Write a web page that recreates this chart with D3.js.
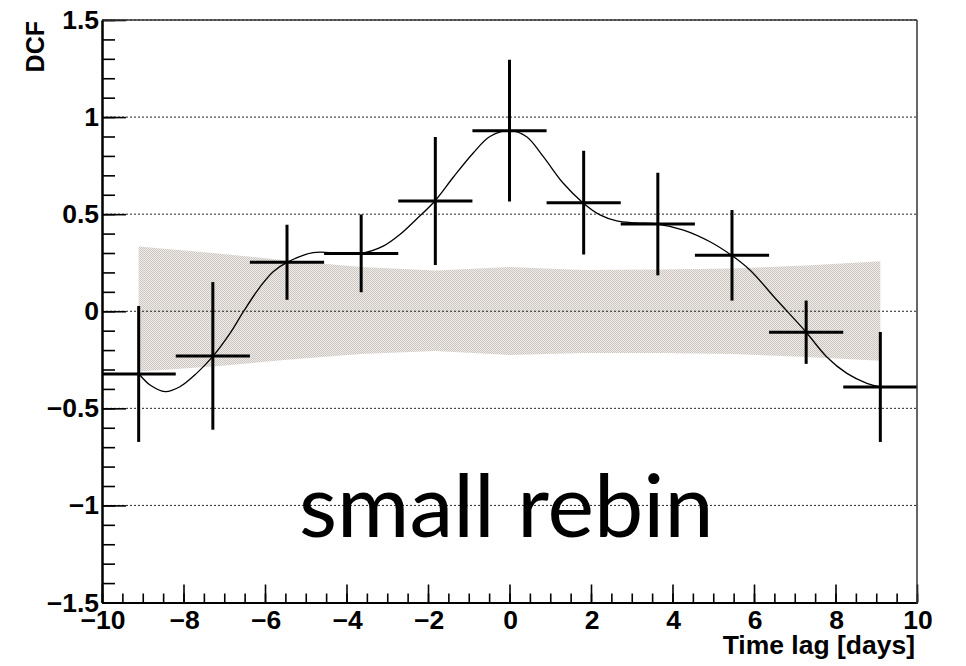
<!DOCTYPE html>
<html><head><meta charset="utf-8">
<script src="https://cdn.jsdelivr.net/npm/d3@7"></script>
<style>body{margin:0;background:#fff}svg{display:block}</style>
</head><body><svg id="c" width="966" height="666"></svg>
<script>
// ---- data ----
const binCenters = [-9.1, -7.28, -5.46, -3.64, -1.82, 0, 1.82, 3.64, 5.46, 7.28, 9.1];
const dcfValues  = [-0.323, -0.230, 0.252, 0.298, 0.568, 0.930, 0.559, 0.449, 0.288, -0.108, -0.390];
const dcfErrors  = [0.35, 0.38, 0.193, 0.20, 0.33, 0.365, 0.267, 0.264, 0.233, 0.163, 0.283];
const binHalfWidth = 0.91;
const bandUpper = [0.333, 0.300, 0.262, 0.228, 0.210, 0.228, 0.212, 0.215, 0.220, 0.235, 0.258];
const bandLower = [-0.310, -0.285, -0.250, -0.220, -0.205, -0.225, -0.215, -0.215, -0.220, -0.235, -0.255];
// smooth curve
const curveX = [-9.09, -8.82, -8.45, -8.09, -7.68, -7.27, -6.86, -6.53, -6.12, -5.80, -5.46, -4.82, -4.2, -3.64, -3.10, -2.69, -2.28, -1.83, -1.38, -0.89, -0.48, 0.0, 0.42, 0.83, 1.32, 1.80, 2.22, 2.63, 3.10, 3.63, 4.27, 4.92, 5.45, 5.90, 6.56, 7.28, 7.78, 8.28, 8.77, 9.09];
const curveY = [-0.323, -0.380, -0.414, -0.389, -0.320, -0.230, -0.114, -0.002, 0.126, 0.204, 0.252, 0.302, 0.300, 0.298, 0.335, 0.395, 0.475, 0.568, 0.690, 0.815, 0.900, 0.930, 0.899, 0.796, 0.659, 0.559, 0.496, 0.465, 0.455, 0.449, 0.418, 0.358, 0.288, 0.212, 0.058, -0.108, -0.234, -0.320, -0.371, -0.390];
const xMajorTicks = [-10, -8, -6, -4, -2, 0, 2, 4, 6, 8, 10];
const yMajorTicks = [-1.5, -1, -0.5, 0, 0.5, 1, 1.5];
const xTitle = "Time lag [days]";
const yTitle = "DCF";
const annotation = "small rebin";

// ---- layout ----
const svg = d3.select("#c");
const L = 102, R = 917, T = 20, B = 602.5;
const x = d3.scaleLinear().domain([-10, 10]).range([L, R]);
const y = d3.scaleLinear().domain([-1.5, 1.5]).range([B, T]);
const fmt = v => d3.format("")(v).replace("-", "\u2212");

const defs = svg.append("defs");
const pat = defs.append("pattern").attr("id", "hatch").attr("width", 2).attr("height", 2)
  .attr("patternUnits", "userSpaceOnUse");
pat.append("rect").attr("width", 2).attr("height", 2).attr("fill", "#eeebe8");
pat.append("rect").attr("x", 0).attr("y", 0).attr("width", 1).attr("height", 1).attr("fill", "#cdc7c1");
pat.append("rect").attr("x", 1).attr("y", 1).attr("width", 1).attr("height", 1).attr("fill", "#cdc7c1");
defs.append("clipPath").attr("id", "frame").append("rect")
  .attr("x", L).attr("y", T).attr("width", R - L).attr("height", B - T);

// band
const bandData = binCenters.map((c, i) => ({x: c, u: bandUpper[i], l: bandLower[i]}));
svg.append("path").datum(bandData)
  .attr("d", d3.area().x(d => x(d.x)).y0(d => y(d.l)).y1(d => y(d.u)))
  .attr("fill", "url(#hatch)");

// gridlines
svg.append("g").selectAll("line").data(yMajorTicks.filter(v => v > -1.5)).join("line")
  .attr("x1", L).attr("x2", R).attr("y1", d => y(d)).attr("y2", d => y(d))
  .attr("stroke", "#222").attr("stroke-width", 1).attr("stroke-dasharray", "2,2");

// annotation text
svg.append("text").attr("x", 299).attr("y", 537)
  .attr("font-family", "Lato, 'Open Sans', sans-serif").attr("font-size", 88)
  .attr("fill", "#000").text(annotation);

const plot = svg.append("g").attr("clip-path", "url(#frame)");
// smooth curve
const curvePts = curveX.map((v, i) => [v, curveY[i]]);
plot.append("path").datum(curvePts)
  .attr("d", d3.line().x(d => x(d[0])).y(d => y(d[1])).curve(d3.curveCatmullRom.alpha(0.5)))
  .attr("fill", "none").attr("stroke", "#000").attr("stroke-width", 1.3);

// error bars
const pts = binCenters.map((c, i) => ({x: c, y: dcfValues[i], e: dcfErrors[i]}));
const eb = plot.append("g").attr("stroke", "#000").attr("stroke-width", 3);
eb.selectAll(".h").data(pts).join("line")
  .attr("x1", d => x(d.x - binHalfWidth)).attr("x2", d => x(d.x + binHalfWidth))
  .attr("y1", d => y(d.y)).attr("y2", d => y(d.y));
eb.selectAll(".v").data(pts).join("line")
  .attr("x1", d => x(d.x)).attr("x2", d => x(d.x))
  .attr("y1", d => y(d.y - d.e)).attr("y2", d => y(d.y + d.e));

// axes ticks
const yAxis = svg.append("g").attr("transform", `translate(${L},0)`)
  .call(d3.axisLeft(y).tickValues(yMajorTicks).tickSize(-24).tickSizeOuter(0).tickFormat(""));
const yMinor = svg.append("g").attr("transform", `translate(${L},0)`)
  .call(d3.axisLeft(y).ticks(30).tickSize(-13).tickSizeOuter(0).tickFormat(""));
const xAxis = svg.append("g").attr("transform", `translate(0,${B})`)
  .call(d3.axisBottom(x).tickValues(xMajorTicks).tickSize(-18).tickSizeOuter(0).tickFormat(""));
const xMinor = svg.append("g").attr("transform", `translate(0,${B})`)
  .call(d3.axisBottom(x).ticks(40).tickSize(-9).tickSizeOuter(0).tickFormat(""));
[yAxis, yMinor, xAxis, xMinor].forEach(g => {
  g.selectAll("line").attr("stroke", "#000").attr("stroke-width", 1.6);
  g.select(".domain").attr("stroke", "#000").attr("stroke-width", 2);
});

// frame right/top
svg.append("line").attr("x1", R).attr("x2", R).attr("y1", T).attr("y2", B + 1)
  .attr("stroke", "#333").attr("stroke-width", 1.5);
svg.append("line").attr("x1", L).attr("x2", R).attr("y1", T).attr("y2", T)
  .attr("stroke", "#333").attr("stroke-width", 1.5);

// labels
const lab = (sel, tx, ty, s, anchor) => sel.append("text")
  .attr("transform", `translate(${tx},${ty}) scale(1.06,1)`)
  .attr("text-anchor", anchor)
  .attr("font-family", "'Liberation Sans', Arial, Helvetica, sans-serif")
  .attr("font-weight", "bold").attr("font-size", 25).attr("fill", "#000").text(s);

const lg = svg.append("g");
yMajorTicks.forEach(v => lab(lg, 99, y(v) + 9, fmt(v), "end"));
xMajorTicks.forEach(v => lab(lg, x(v) + 1, 629, fmt(v), "middle"));
lab(lg, 915, 654, xTitle, "end");
svg.append("text").attr("transform", `translate(44,21) rotate(-90)`)
  .attr("text-anchor", "end")
  .attr("font-family", "'Liberation Sans', Arial, Helvetica, sans-serif")
  .attr("font-weight", "bold").attr("font-size", 25).attr("fill", "#000").text(yTitle);
</script>
</body></html>
